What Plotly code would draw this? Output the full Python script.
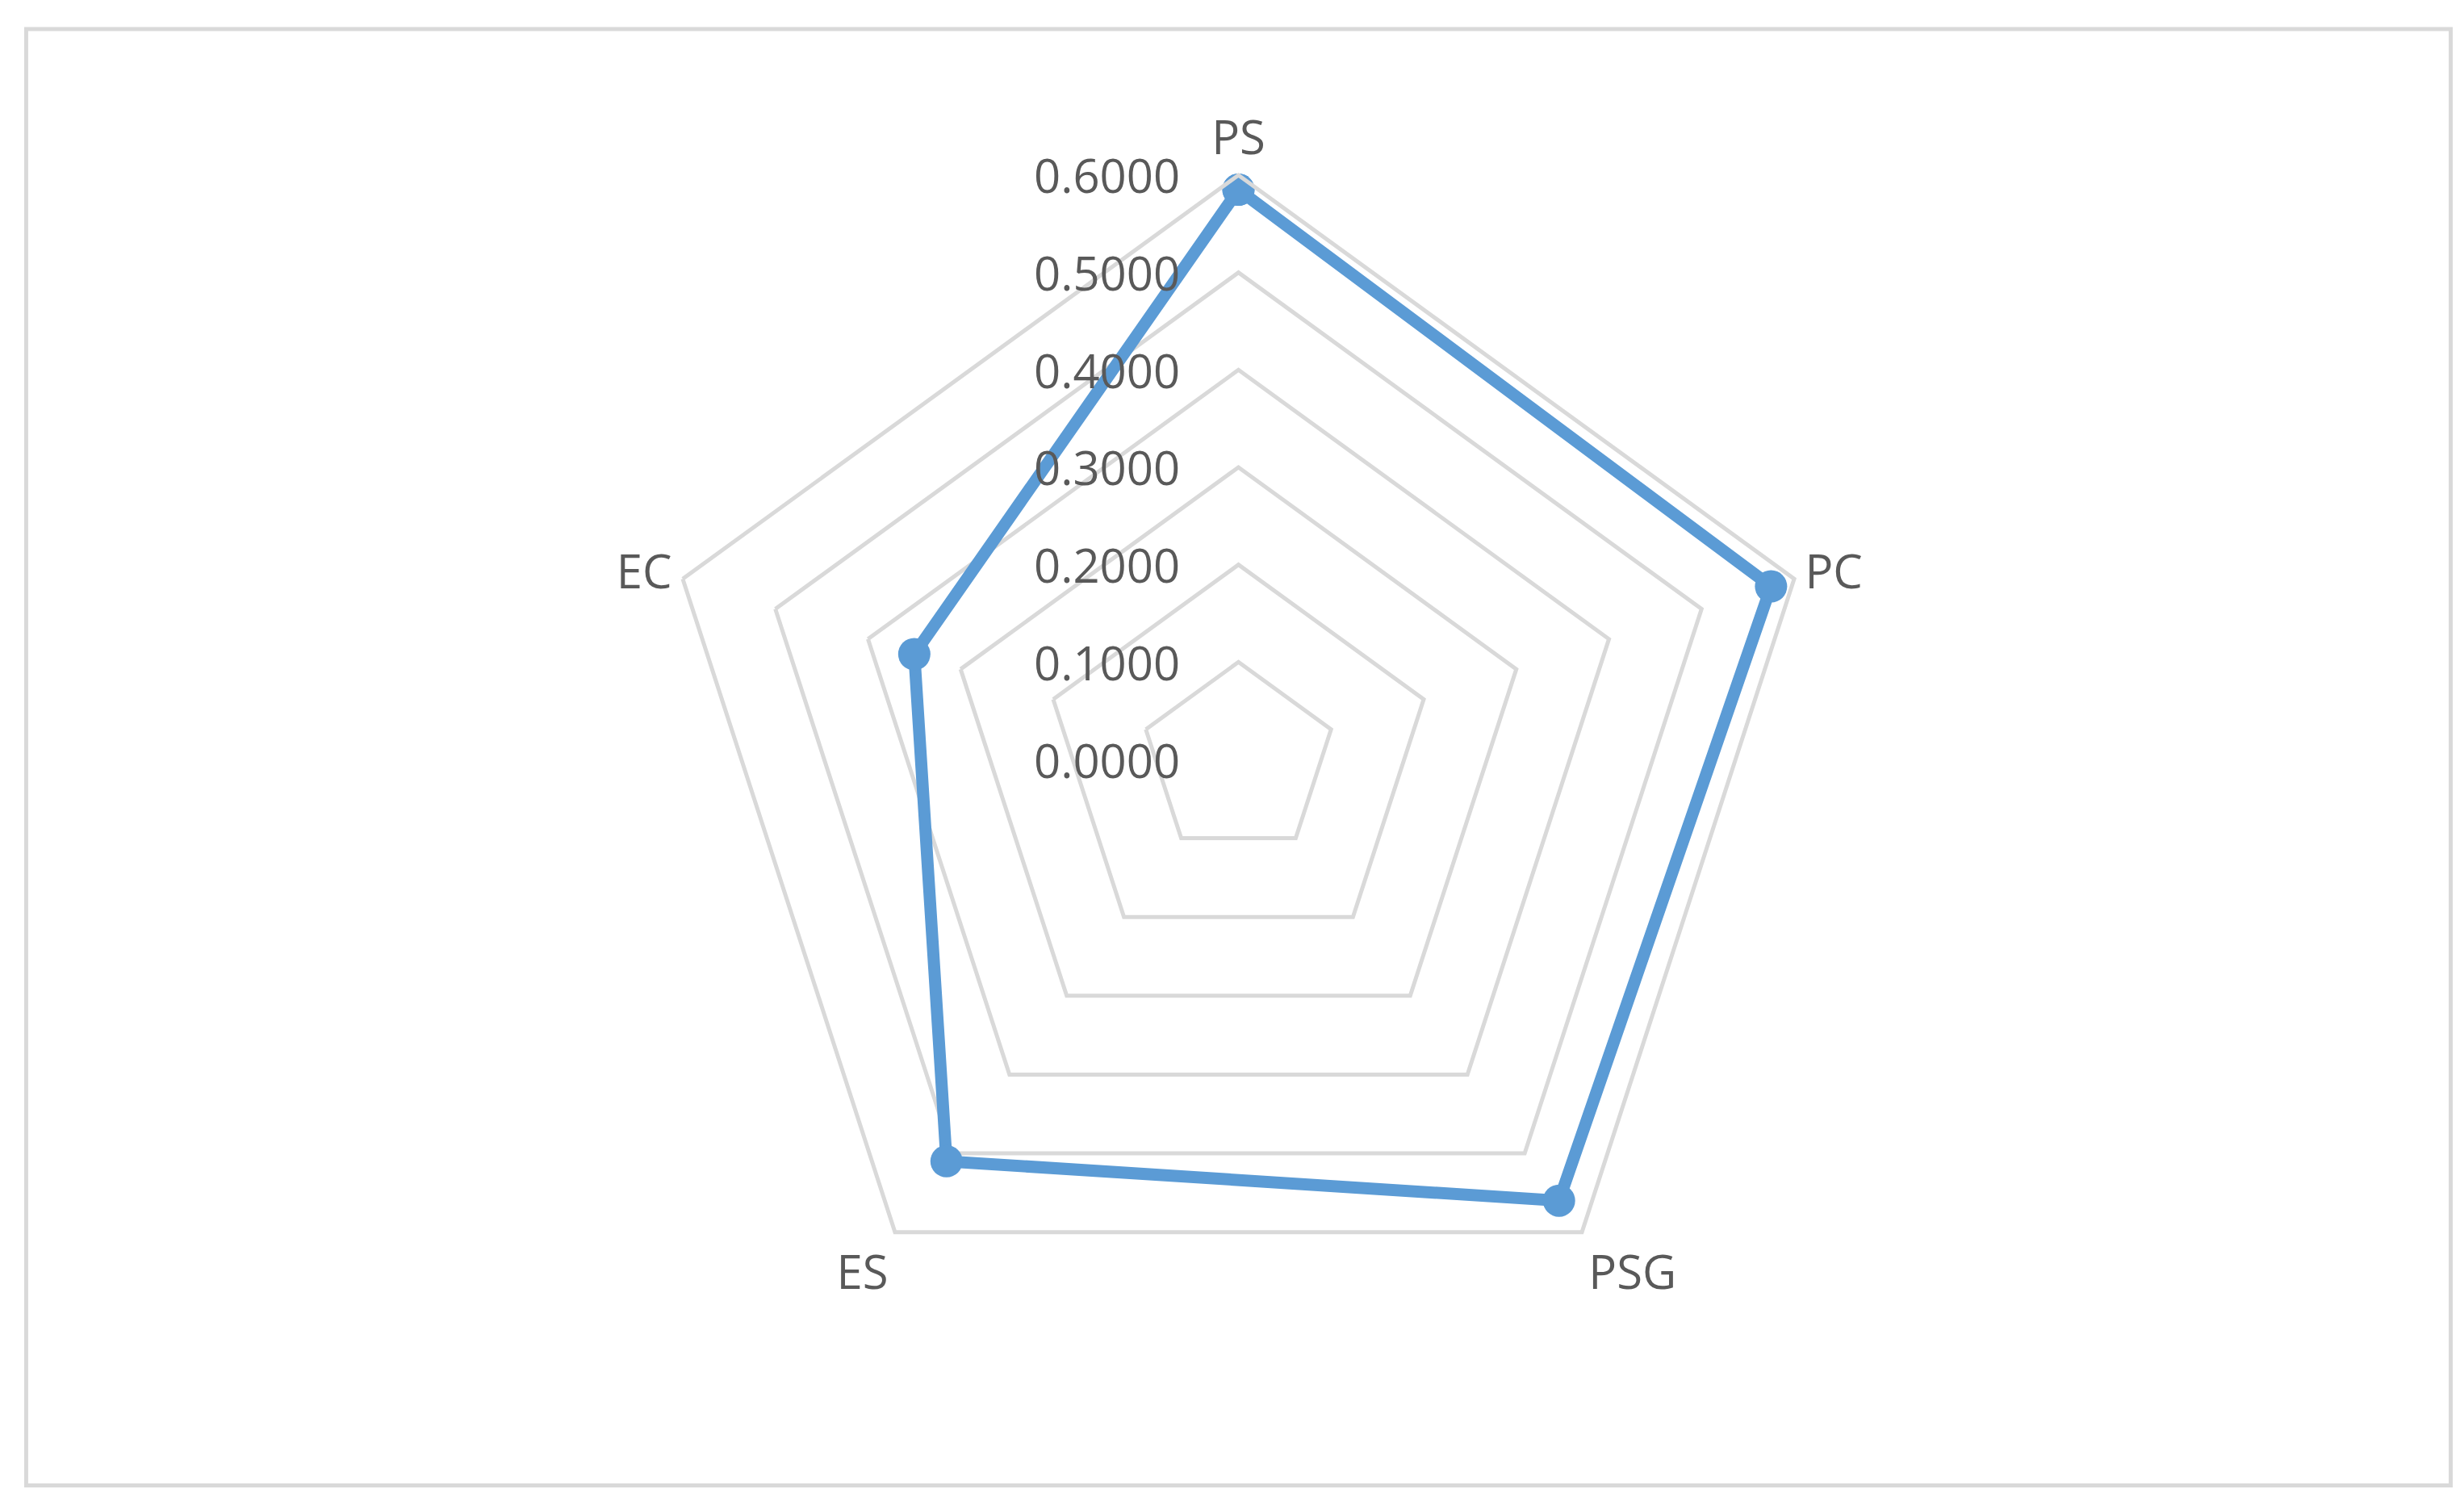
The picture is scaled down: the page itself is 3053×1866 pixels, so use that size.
import plotly.graph_objects as go

categories = ["PS", "PC", "PSG", "ES", "EC"]
values = [0.585, 0.575, 0.56, 0.51, 0.35]
tickvals = [0, 0.1, 0.2, 0.3, 0.4, 0.5, 0.6]
ticktext = ["0.0000", "0.1000", "0.2000", "0.3000", "0.4000", "0.5000", "0.6000"]

dom_y = [0.112, 0.888]
half = (dom_y[1] - dom_y[0]) / 2
cy = (dom_y[0] + dom_y[1]) / 2

fig = go.Figure(go.Scatterpolar(
    r=values + values[:1], theta=categories + categories[:1],
    mode="lines+markers",
    line=dict(color="#5B9BD5", width=15),
    marker=dict(color="#5B9BD5", size=40),
))
annotations = [dict(xref="paper", yref="paper", x=0.477, y=cy + v / 0.6 * half,
                    text=t, showarrow=False, xanchor="right", yanchor="middle",
                    font=dict(size=58, color="#595959"))
               for v, t in zip(tickvals, ticktext)]
fig.update_layout(
    width=3053, height=1866,
    margin=dict(l=0, r=0, t=0, b=0),
    paper_bgcolor="white", showlegend=False,
    font=dict(family="Open Sans, Noto Sans, sans-serif", size=58, color="#595959"),
    polar=dict(
        domain=dict(x=[0.1, 0.9], y=dom_y),
        gridshape="linear", bgcolor="white",
        angularaxis=dict(rotation=90, direction="clockwise", showgrid=False,
                         linecolor="#D9D9D9", linewidth=5, ticks="",
                         tickfont=dict(size=58, color="#595959")),
        radialaxis=dict(range=[0, 0.6], tickvals=tickvals, showticklabels=False,
                        angle=90, showline=False, ticks="",
                        gridcolor="#D9D9D9", gridwidth=5),
    ),
    annotations=annotations,
    shapes=[dict(type="rect", xref="paper", yref="paper", x0=0.008, y0=0.018, x1=0.992, y1=0.985,
                 line=dict(color="#D9D9D9", width=5))],
)
fig.write_html("out.html")
